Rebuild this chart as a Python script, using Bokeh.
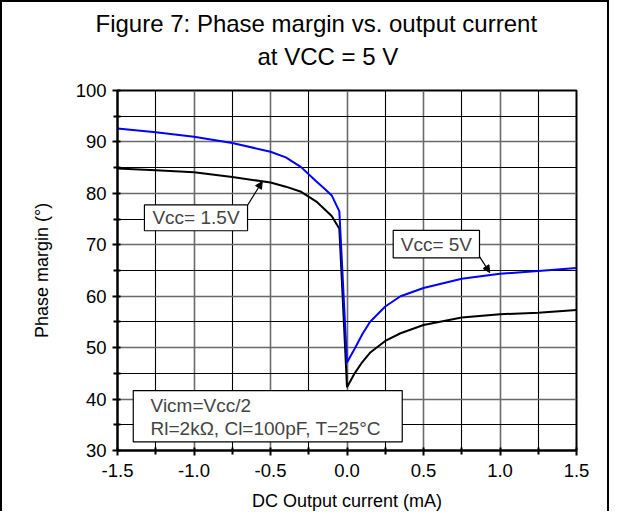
from bokeh.plotting import figure
from bokeh.models import (FixedTicker, Label, BoxAnnotation, Arrow, NormalHead, Range1d, Title)
from bokeh.embed import file_html
from bokeh.resources import INLINE

# ---- data ----
x_vals = [-1.5, -1.25, -1.0, -0.75, -0.5, -0.4, -0.3, -0.2, -0.15, -0.1, -0.05,
          0.0, 0.05, 0.1, 0.15, 0.25, 0.35, 0.5, 0.75, 1.0, 1.25, 1.5]
pm_vcc5 = [92.6, 91.9, 91.0, 89.8, 88.1, 87.0, 85.1, 82.3, 81.0, 79.6, 76.5,
           47.1, 49.8, 52.6, 55.0, 58.0, 60.0, 61.6, 63.4, 64.35, 64.9, 65.5]
pm_vcc15 = [84.85, 84.5, 84.1, 83.2, 82.1, 81.3, 80.3, 78.4, 77.0, 75.6, 73.1,
            42.3, 45.0, 47.2, 49.0, 51.3, 52.8, 54.4, 55.85, 56.5, 56.8, 57.3]

x_major = [-1.5, -1.0, -0.5, 0.0, 0.5, 1.0, 1.5]
x_minor = [-1.25, -0.75, -0.25, 0.25, 0.75, 1.25]
y_major = [30, 40, 50, 60, 70, 80, 90, 100]
y_minor = [35, 45, 55, 65, 75, 85, 95]

title_line1 = "Figure 7: Phase margin vs. output current"
title_line2 = "at VCC = 5 V"
x_label = "DC Output current (mA)"
y_label = "Phase margin (°)"
label_vcc15 = "Vcc= 1.5V"
label_vcc5 = "Vcc= 5V"
cond_line1 = "Vicm=Vcc/2"
cond_line2 = "Rl=2kΩ, Cl=100pF, T=25°C"

FONT = "Liberation Sans"

p = figure(width=609, height=511, output_backend="svg", toolbar_location=None,
           x_range=Range1d(-1.5, 1.5), y_range=Range1d(30, 100),
           min_border_left=115, min_border_right=35, min_border_top=88, min_border_bottom=60,
           styles={"border-left": "2px solid black", "border-top": "2px solid black",
                   "border-right": "2px solid black"})
p.background_fill_color = "white"
p.border_fill_color = "white"
p.outline_line_color = "black"
p.outline_line_width = 2

for ax, maj, mnr in ((p.xaxis[0], x_major, x_minor), (p.yaxis[0], y_major, y_minor)):
    ax.ticker = FixedTicker(ticks=maj, minor_ticks=mnr)
    ax.axis_line_color = "black"
    ax.axis_line_width = 2
    ax.major_tick_line_color = "black"
    ax.major_tick_line_width = 2
    ax.minor_tick_line_color = "black"
    ax.minor_tick_line_width = 2
    ax.major_tick_in = 3
    ax.major_tick_out = 5
    ax.minor_tick_in = 3
    ax.minor_tick_out = 4
    ax.major_label_text_font = FONT
    ax.major_label_text_font_size = "18.5px"
    ax.major_label_text_color = "black"
    ax.axis_label_text_font = FONT
    ax.axis_label_text_font_size = "18px"
    ax.axis_label_text_font_style = "normal"
    ax.axis_label_text_color = "black"

p.xaxis.major_label_overrides = {v: f"{v:.1f}" for v in x_major}
p.xaxis.axis_label = x_label
p.yaxis.axis_label = y_label
p.xaxis.major_label_standoff = 8
p.yaxis.major_label_standoff = 6
p.xaxis.axis_label_standoff = 11
p.yaxis.axis_label_standoff = 21

for g in (p.xgrid[0], p.ygrid[0]):
    g.grid_line_color = "#6a6a6a"
    g.grid_line_width = 1.6
    g.minor_grid_line_color = "black"
    g.minor_grid_line_width = 1.1
p.xgrid.ticker = p.xaxis[0].ticker
p.ygrid.ticker = p.yaxis[0].ticker

p.line(x_vals, pm_vcc15, line_color="black", line_width=2)
p.line(x_vals, pm_vcc5, line_color="#0000ff", line_width=2)

# ---- annotation boxes ----
ANN = "19px"
def box(l, r, b, t):
    p.add_layout(BoxAnnotation(left=l, right=r, bottom=b, top=t, fill_color="white",
                               fill_alpha=1.0, line_color="black", line_alpha=1.0,
                               line_width=1.2))

box(-1.324, -0.650, 72.73, 77.76)
p.add_layout(Label(x=-0.987, y=75.25, text=label_vcc15, text_font=FONT, text_font_size=ANN,
                   text_align="center", text_baseline="middle"))
p.add_layout(Arrow(x_start=-0.652, y_start=77.6, x_end=-0.554, y_end=82.3, line_width=1.2,
                   end=NormalHead(size=7, fill_color="black", line_color="black")))

box(0.302, 0.866, 67.45, 72.79)
p.add_layout(Label(x=0.584, y=70.12, text=label_vcc5, text_font=FONT, text_font_size=ANN,
                   text_align="center", text_baseline="middle"))
p.add_layout(Arrow(x_start=0.866, y_start=67.7, x_end=0.933, y_end=64.6, line_width=1.2,
                   end=NormalHead(size=7, fill_color="black", line_color="black")))

box(-1.397, 0.361, 31.68, 41.66)
p.add_layout(Label(x=-1.284, y=38.76, text=cond_line1, text_font=FONT, text_font_size=ANN,
                   text_align="left", text_baseline="middle"))
p.add_layout(Label(x=-1.284, y=34.25, text=cond_line2, text_font=FONT, text_font_size=ANN,
                   text_align="left", text_baseline="middle"))

# ---- title (two lines; the first added sits nearest the frame) ----
p.add_layout(Title(text=" ", text_font=FONT, text_font_size="15px", standoff=0), "above")
p.add_layout(Title(text=title_line2, align="left", offset=140, text_font=FONT, text_color="black",
                   text_font_size="24px", text_font_style="normal", standoff=4), "above")
p.add_layout(Title(text=title_line1, align="left", offset=-22, text_font=FONT, text_color="black",
                   text_font_size="24px", text_font_style="normal", standoff=4), "above")

open("out.html", "w").write(file_html(p, INLINE))
